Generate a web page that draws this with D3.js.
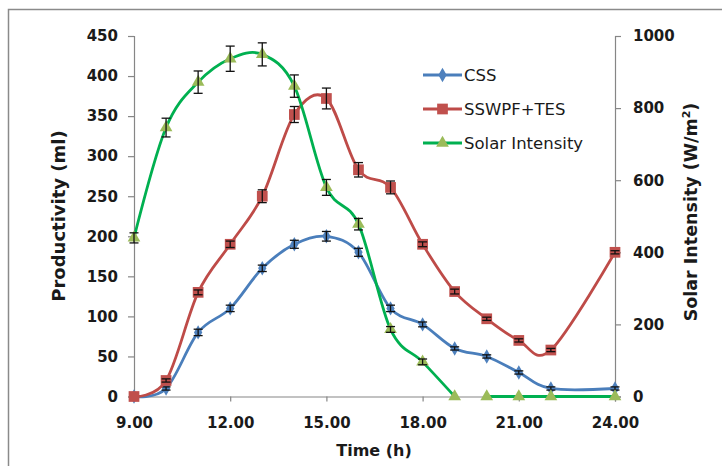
<!DOCTYPE html>
<html><head><meta charset="utf-8">
<script src="https://cdn.jsdelivr.net/npm/d3@7"></script>
<style>
body{margin:0;background:#fff;}
svg{display:block;}
text{font-family:"DejaVu Sans",sans-serif;}
</style></head>
<body><svg id="c" width="722" height="466"></svg>
<script>
const hours = [9,10,11,12,13,14,15,16,17,18,19,20,21,22,24];
const cssValues = [0,10,80,110,160,190,200,180,110,90,60,50,30,10,10];
const tesValues = [0,20,130,190,250,352,372,283,261,190,131,97,70,58,180];
const solarValues = [440,746,872,937,949,861,580,478,186,96,0,0,0,0,0];
const cssErr = [0,2,4,4,4,5,6,5,4,3,2,2,2,2,2];
const tesErr = [0,2,3,4,8,10,13,9,8,3,3,2,2,2,2];
const solarErr = [14,26,31,35,32,31,22,16,8,8,0,0,0,0,0];
const xTicks = [9,12,15,18,21,24];
const leftTicks = [0,50,100,150,200,250,300,350,400,450];
const rightTicks = [0,200,400,600,800,1000];
const seriesNames = ["CSS","SSWPF+TES","Solar Intensity"];

const svg = d3.select("#c");
const x = d3.scaleLinear().domain([9,24]).range([134,615]);
const yL = d3.scaleLinear().domain([0,450]).range([396.5,36]);
const yR = d3.scaleLinear().domain([0,1000]).range([396.5,36]);

// outer border
svg.append("path").attr("d","M8.5,466 V9.5 H722").attr("fill","none").attr("stroke","#8a8a8a").attr("stroke-width",1.5);

const axisCol = "#868686";
function styleAxis(g){
  g.select(".domain").attr("stroke",axisCol).attr("stroke-width",1.2);
  g.selectAll(".tick line").attr("stroke",axisCol).attr("stroke-width",1.2);
  g.selectAll(".tick text").attr("fill","#1a1a1a").attr("font-weight","bold").attr("font-size","15px").attr("font-family","DejaVu Sans, sans-serif");
}
const gx = svg.append("g").attr("transform","translate(0,396.5)")
  .call(d3.axisBottom(x).tickValues(xTicks).tickFormat(d3.format(".2f")).tickSizeOuter(0).tickSize(5).tickPadding(16));
styleAxis(gx);
const gl = svg.append("g").attr("transform","translate(134,0)")
  .call(d3.axisLeft(yL).tickValues(leftTicks).tickFormat(d3.format("d")).tickSizeOuter(0).tickSize(6).tickPadding(10));
styleAxis(gl);
const gr = svg.append("g").attr("transform","translate(615,0)")
  .call(d3.axisRight(yR).tickValues(rightTicks).tickFormat(d3.format("d")).tickSizeOuter(0).tickSize(6).tickPadding(12));
styleAxis(gr);

// titles
svg.append("text").attr("transform","translate(65,216) rotate(-90)").attr("text-anchor","middle")
  .attr("font-weight","bold").attr("font-size","18px").attr("fill","#1a1a1a").text("Productivity (ml)");
const rt = svg.append("text").attr("transform","translate(697,212) rotate(-90)").attr("text-anchor","middle")
  .attr("font-weight","bold").attr("font-size","17.5px").attr("fill","#1a1a1a");
rt.append("tspan").text("Solar Intensity (W/m");
rt.append("tspan").attr("font-size","11px").attr("dy","-7").text("2");
rt.append("tspan").attr("dy","7").text(")");
svg.append("text").attr("x",374).attr("y",456).attr("text-anchor","middle")
  .attr("font-weight","bold").attr("font-size","16px").attr("fill","#1a1a1a").text("Time (h)");

const line = (yS) => d3.line().x(d=>x(d[0])).y(d=>yS(d[1])).curve(d3.curveCardinal.tension(0));
const cssData = hours.map((h,i)=>[h,cssValues[i],cssErr[i]]);
const tesData = hours.map((h,i)=>[h,tesValues[i],tesErr[i]]);
const solData = hours.map((h,i)=>[h,solarValues[i],solarErr[i]]);

const styles = [
  {data:cssData, y:yL, lc:"#4A7EBB", mc:"#4F81BD", shape:d3.symbolDiamond, size:60},
  {data:tesData, y:yL, lc:"#BE4B48", mc:"#C0504D", shape:d3.symbolSquare, size:115},
  {data:solData, y:yR, lc:"#00B050", mc:"#9BBB59", shape:d3.symbolTriangle, size:70}
];

function drawSeries(s, segments){
  segments.forEach(seg=>{
    svg.append("path").datum(seg).attr("d",line(s.y)).attr("fill","none")
      .attr("stroke",s.lc).attr("stroke-width",2.8).attr("stroke-linejoin","round");
  });
  svg.append("g").selectAll("path").data(s.data).join("path")
    .attr("transform",d=>`translate(${x(d[0])},${s.y(d[1])})`)
    .attr("d",d3.symbol().type(s.shape).size(s.size)).attr("fill",s.mc);
  const eb = svg.append("g").attr("stroke","#111").attr("stroke-width",1.3);
  s.data.filter(d=>d[2]>0).forEach(d=>{
    const cx = x(d[0]), y1 = s.y(d[1]-d[2]), y2 = s.y(d[1]+d[2]);
    eb.append("line").attr("x1",cx).attr("x2",cx).attr("y1",y1).attr("y2",y2);
    eb.append("line").attr("x1",cx-4.5).attr("x2",cx+4.5).attr("y1",y1).attr("y2",y1);
    eb.append("line").attr("x1",cx-4.5).attr("x2",cx+4.5).attr("y1",y2).attr("y2",y2);
  });
}
drawSeries(styles[0],[cssData]);
drawSeries(styles[1],[tesData]);
drawSeries(styles[2],[solData.slice(0,11), solData.slice(11)]);

// legend
const legY = [75,109,143];
styles.forEach((s,i)=>{
  const g = svg.append("g").attr("transform",`translate(0,${legY[i]})`);
  g.append("line").attr("x1",423).attr("x2",462).attr("y1",0).attr("y2",0).attr("stroke",s.lc).attr("stroke-width",2.8);
  g.append("path").attr("transform","translate(442.5,0)").attr("d",d3.symbol().type(s.shape).size(s.size)).attr("fill",s.mc);
  g.append("text").attr("x",464).attr("y",6).attr("font-size","16.5px").attr("fill","#1a1a1a").text(seriesNames[i]);
});
</script></body></html>
